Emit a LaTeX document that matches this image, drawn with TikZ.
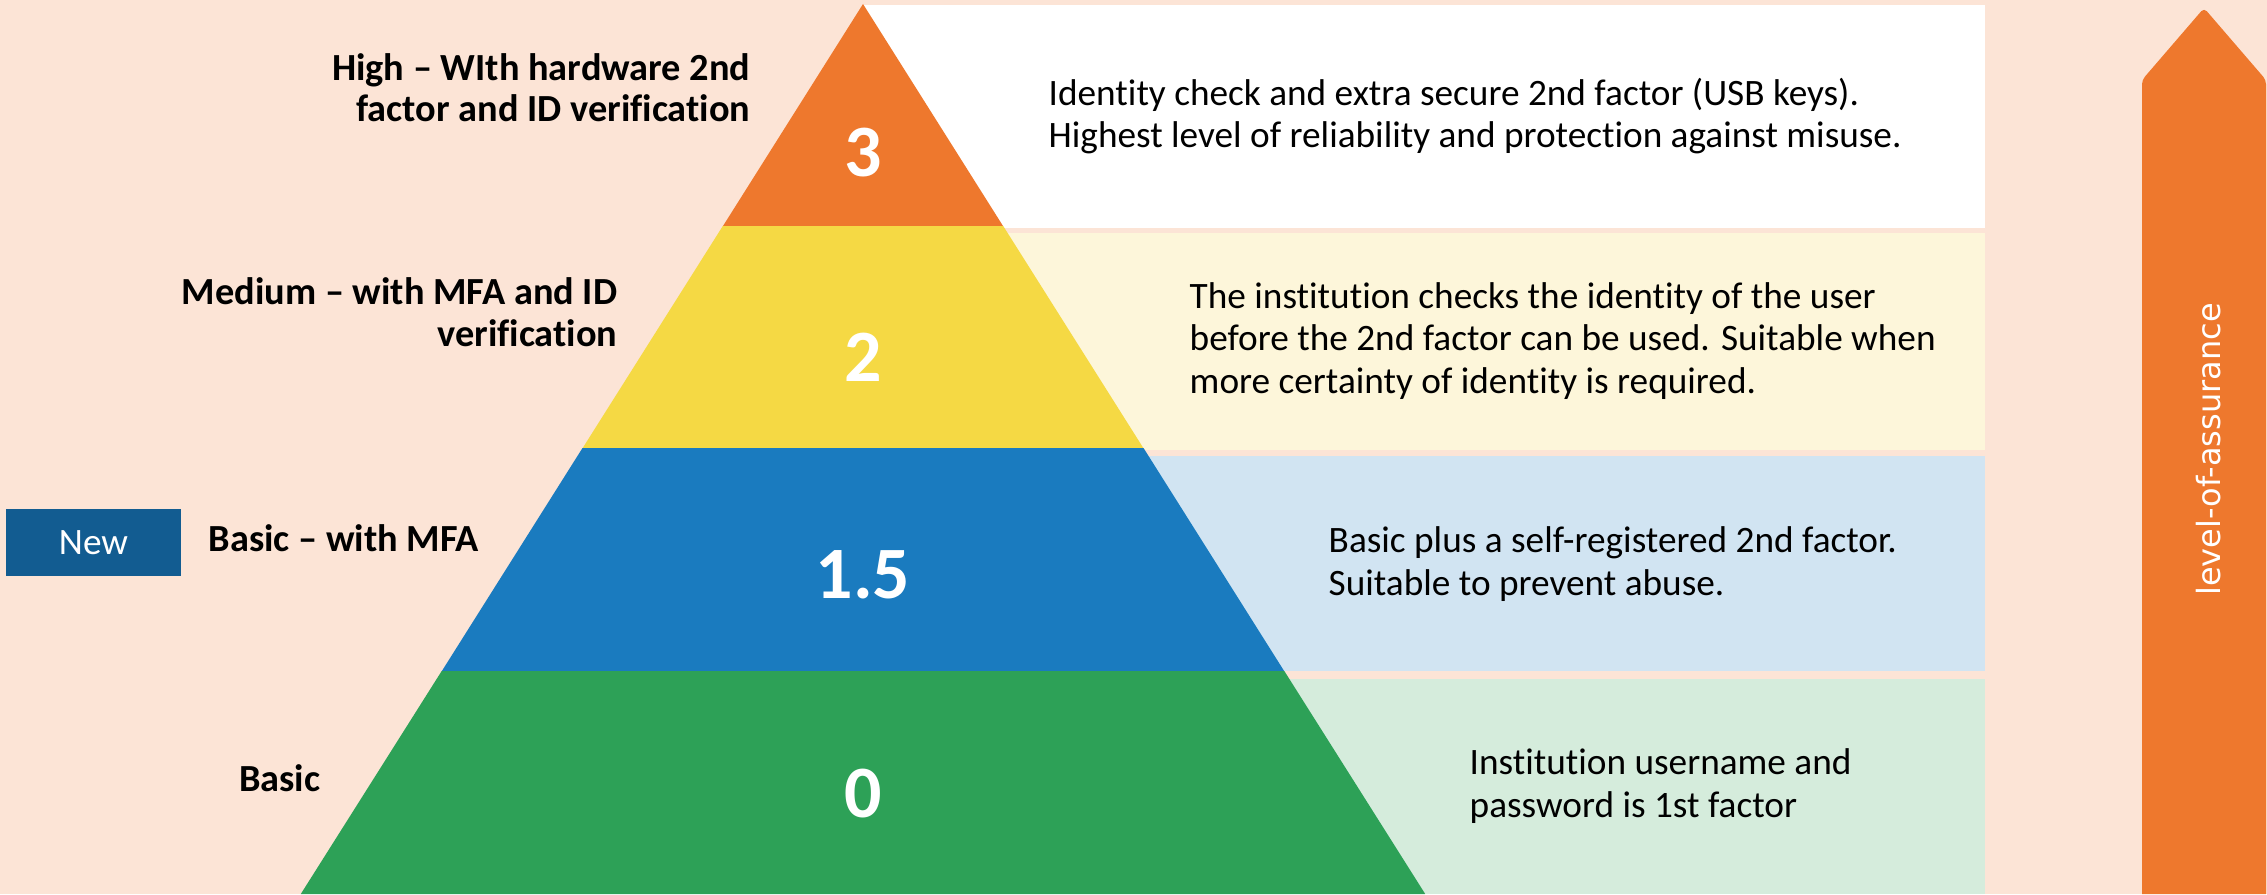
\documentclass[tikz,border=0pt]{standalone}
\usepackage{fontspec}
\setmainfont{Carlito}[Ligatures=NoCommon]
\newfontfamily\arrowfont{DejaVu Sans}
\usepackage{tikz}
\definecolor{peach}{HTML}{FCE4D6}
\definecolor{loaorange}{HTML}{EE782D}
\definecolor{loayellow}{HTML}{F5D944}
\definecolor{loablue}{HTML}{1A7BBF}
\definecolor{loagreen}{HTML}{2DA157}
\definecolor{paleyellow}{HTML}{FDF6DA}
\definecolor{paleblue}{HTML}{D1E4F2}
\definecolor{palegreen}{HTML}{D5ECDC}
\definecolor{newblue}{HTML}{125C91}

\begin{document}
\begin{tikzpicture}[x=0.01cm,y=-0.01cm]
\tikzstyle{every node}+=[inner sep=0pt]
\tikzstyle{levelnum}=[font=\fontsize{21}{25}\selectfont\bfseries, text=white, anchor=base]
\tikzstyle{levelname}=[font=\fontsize{10.9}{11.7}\selectfont\bfseries, align=right, anchor=base east]
\tikzstyle{leveltext}=[font=\fontsize{10.6}{11.95}\selectfont, align=left, anchor=base west]
\useasboundingbox (0,0) rectangle (2267,894);
\fill [peach] (0,0) rectangle (2267,894);
% panels behind the pyramid
\fill [white] (863,5) rectangle (1985,228);
\fill [paleyellow] (863,233) rectangle (1985,450);
\fill [paleblue] (863,456) rectangle (1985,671);
\fill [palegreen] (863,679) rectangle (1985,894);
% pyramid
\fill [loaorange] (863,4) -- (1003.2,226.3) -- (722.8,226.3) -- cycle;
\fill [loayellow] (722.8,226) -- (1003.2,226) -- (1143.5,448.3) -- (582.5,448.3) -- cycle;
\fill [loablue] (582.5,448) -- (1143.5,448) -- (1284.3,671.3) -- (441.7,671.3) -- cycle;
\fill [loagreen] (441.7,671) -- (1284.3,671) -- (1425.2,894) -- (300.8,894) -- cycle;
\node [levelnum] (num3) at (863,177) {3};
\node [levelnum] (num2) at (863,381) {2};
\node [levelnum] (num15) at (863,598) {1.5};
\node [levelnum] (num0) at (863,817) {0};
% names on the left (base = last line)
\node [levelname] (name3) at (751,122) {High – WIth hardware 2nd\\factor and ID verification};
\node [levelname] (name2) at (618,346) {Medium – with MFA and ID\\verification};
\node [levelname, anchor=base west] (name15) at (208,551) {Basic – with MFA};
\node [levelname] (name0) at (321,791) {Basic};
\node [fill=newblue, text=white, minimum width=1.75cm, minimum height=0.67cm,
  font=\fontsize{10.6}{11.7}\selectfont] (newtag) at (93.5,542.5) {New};
% descriptions
\node [leveltext] (text3) at (1048,148) {Identity check and extra secure 2nd factor (USB keys).\\Highest level of reliability and protection against misuse.};
\node [leveltext] (text2) at (1189,393) {The institution checks the identity of the user\\before the 2nd factor can be used. Suitable when\\more certainty of identity is required.};
\node [leveltext] (text15) at (1328,595) {Basic plus a self-registered 2nd factor.\\Suitable to prevent abuse.};
\node [leveltext] (text0) at (1469,817) {Institution username and\\password is 1st factor};
% arrow
\fill [loaorange] (2142,894) [rounded corners=1.2pt] -- (2142,80) -- (2204,8) -- (2266,80) [sharp corners] -- (2266,894) -- cycle;
\node [rotate=90, anchor=base, text=white, font=\arrowfont\fontsize{9.1}{11}\selectfont] (loa) at (2220,449.5) {level-of-assurance};
\end{tikzpicture}
\end{document}
